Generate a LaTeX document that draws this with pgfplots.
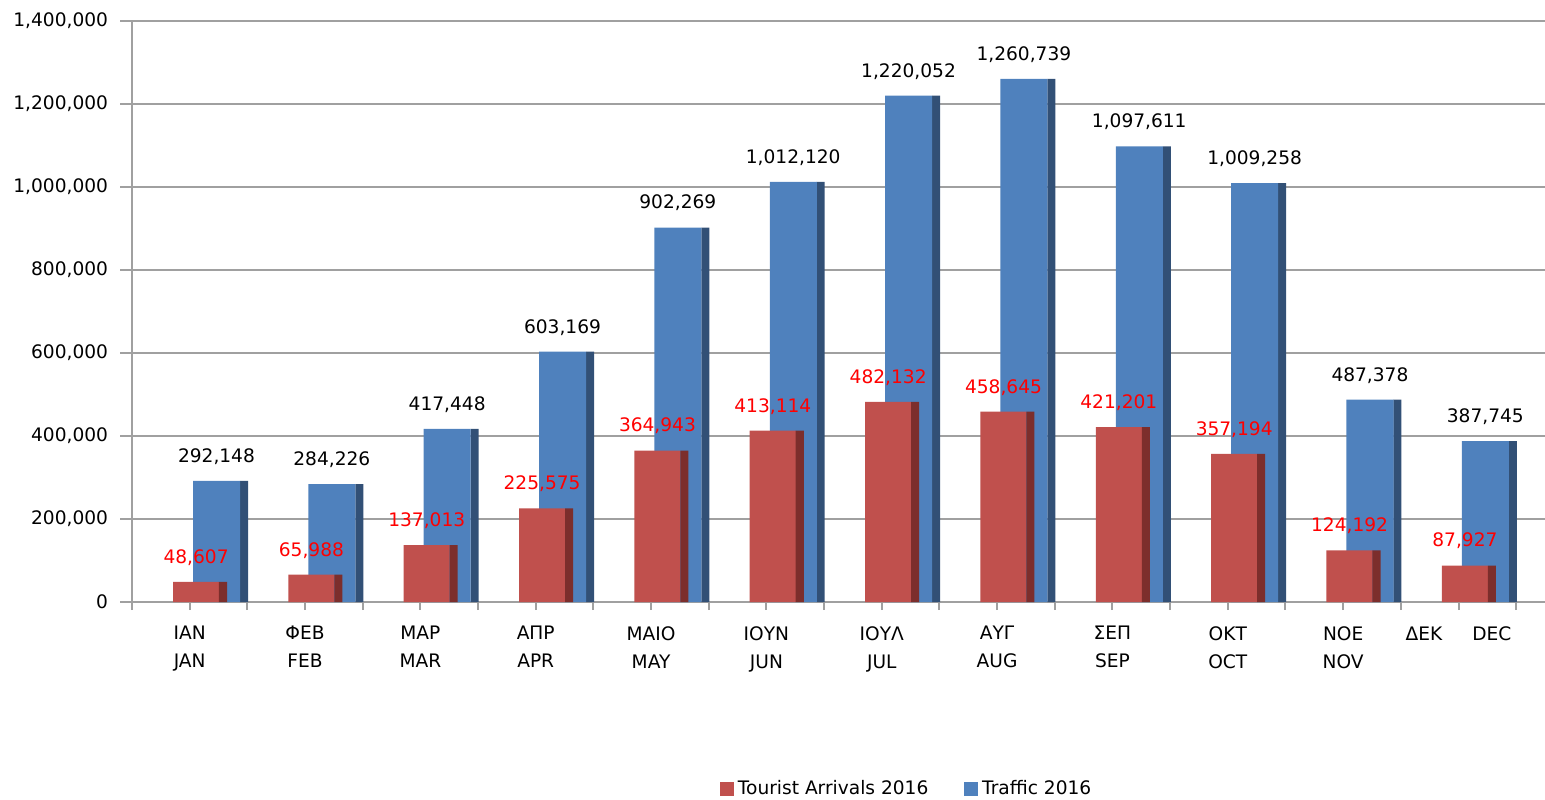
\documentclass[border=0pt]{standalone}
\usepackage{fontspec}
\setmainfont{DejaVu Sans}
\usepackage{pgfplots}
\usepackage{pgfplotstable}
\pgfplotsset{compat=1.18}
\definecolor{redface}{RGB}{192,80,77}
\definecolor{redside}{RGB}{124,46,44}
\definecolor{blueface}{RGB}{79,129,189}
\definecolor{blueside}{RGB}{50,80,118}
\definecolor{gridgray}{RGB}{160,160,160}
\pgfplotstableread{
x arr traf
0 48607 292148
1 65988 284226
2 137013 417448
3 225575 603169
4 364943 902269
5 413114 1012120
6 482132 1220052
7 458645 1260739
8 421201 1097611
9 357194 1009258
10 124192 487378
11 87927 387745
}\data
\begin{document}
\begin{tikzpicture}
\begin{axis}[
 name=ax,
 scale only axis, width=706.5pt, height=290.5pt,
 xmin=-0.5, xmax=11.75, ymin=0, ymax=1400000,
 axis x line*=bottom, axis y line*=left,
 axis line style={gridgray, line width=1.2pt},
 tick align=outside,
 tick style={gridgray, line width=1pt},
 font=\fontsize{9.3}{14}\selectfont,
 ytick={0,200000,...,1400000},
 scaled y ticks=false,
 ymajorgrids,
 grid style={gridgray, line width=1pt},
 yticklabel style={/pgf/number format/fixed, /pgf/number format/precision=0, /pgf/number format/1000 sep={,}, /pgf/number format/assume math mode=true, anchor=east, inner sep=0pt, xshift=-7.5pt},
 ytick style={/pgfplots/major tick length=6pt},
 xtick={-0.5,0.5,...,11.5},
 xticklabels={},
 xtick style={/pgfplots/major tick length=4pt},
 extra x ticks={0,1,2,3,4,5,6,7,8,9,10,11},
 extra x tick labels={{ΙΑΝ\\JAN},{ΦΕΒ\\FEB},{ΜΑΡ\\MAR},{ΑΠΡ\\APR},{ΜΑΙΟ\\MAY},{ΙΟΥΝ\\JUN},{ΙΟΥΛ\\JUL},{ΑΥΓ\\AUG},{ΣΕΠ\\SEP},{ΟΚΤ\\OCT},{ΝΟΕ\\NOV},{ΔΕΚ\hspace{15pt}DEC}},
 extra x tick style={major tick length=0pt, grid=none, xticklabel style={align=center, anchor=north, inner sep=0pt, yshift=-12pt, text=black}},
 legend style={draw=none, fill=none, legend columns=2, at={(0.549,-0.322)}, anchor=center, font=\fontsize{9.3}{14}\selectfont, /tikz/every even column/.append style={column sep=16pt}},
 legend cell align=left,
 clip=false,
]
\coordinate (O) at (rel axis cs:0,0);
\addlegendimage{legend image code/.code={\fill[redface] (0pt,-3.25pt) rectangle (6.5pt,3.25pt);}}
\addlegendentry{Tourist Arrivals 2016}
\addlegendimage{legend image code/.code={\fill[blueface] (0pt,-3.25pt) rectangle (6.5pt,3.25pt);}}
\addlegendentry{Traffic 2016}
\addplot[ybar, bar width=0.0694, bar shift=0.471, fill=blueside, draw=none, forget plot] table[x=x,y=traf]{\data};
\addplot[ybar, bar width=0.4075, bar shift=0.2327, fill=blueface, draw=none, forget plot,
 nodes near coords={\pgfmathprintnumber[fixed,precision=0,1000 sep={,},assume math mode=true]{\pgfplotspointmeta}},
 every node near coord/.append style={text=black, inner sep=0pt, yshift=8pt, xshift=13.4pt, font=\fontsize{9.3}{14}\selectfont}] table[x=x,y=traf]{\data};
\addplot[ybar, bar width=0.399, bar shift=0.055, fill=redface, draw=none, forget plot,
 nodes near coords={\pgfmathprintnumber[fixed,precision=0,1000 sep={,},assume math mode=true]{\pgfplotspointmeta}},
 every node near coord/.append style={text=red, inner sep=0pt, yshift=8pt, xshift=3.2pt, font=\fontsize{9.3}{14}\selectfont}] table[x=x,y=arr]{\data};
\addplot[ybar, bar width=0.07, bar shift=0.289, fill=redside, draw=none, forget plot] table[x=x,y=arr]{\data};
\end{axis}
\pgfresetboundingbox
\path[use as bounding box] ([shift={(-66pt,-98.5pt)}]O) rectangle ([shift={(706.5pt,301pt)}]O);
\end{tikzpicture}
\end{document}
